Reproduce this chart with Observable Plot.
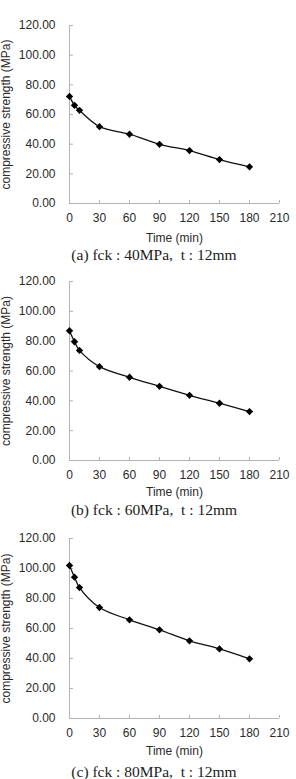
<!DOCTYPE html>
<html><head><meta charset="utf-8">
<script src="https://cdn.jsdelivr.net/npm/d3@7"></script>
<script src="https://cdn.jsdelivr.net/npm/@observablehq/plot@0.6"></script>
<style>
body{margin:0;background:#fff;width:296px;}
.cap{font-family:"Liberation Serif","DejaVu Serif",serif;font-size:15.5px;height:16px;line-height:16px;text-align:center;padding-left:12px;box-sizing:border-box;color:#222;white-space:pre;}
svg{display:block}
</style></head><body><div id="c"></div>
<script>
const times = [0, 5, 10, 30, 60, 90, 120, 150, 180];
const strength40 = [72.2, 66.2, 62.8, 51.8, 46.7, 39.9, 35.7, 29.6, 24.7];
const strength60 = [87.0, 79.6, 73.8, 62.9, 55.8, 49.7, 43.7, 38.4, 32.8];
const strength80 = [102.0, 94.2, 87.3, 74.0, 65.8, 59.1, 51.8, 46.4, 39.8];
const xTicks = [0, 30, 60, 90, 120, 150, 180, 210];
const yTicks = [0, 20, 40, 60, 80, 100, 120];
const captions = ["(a) fck : 40MPa,  t : 12mm", "(b) fck : 60MPa,  t : 12mm", "(c) fck : 80MPa,  t : 12mm"];
const xLabel = "Time (min)";
const yLabel = "compressive strength (MPa)";

const series = [strength40, strength60, strength80];
const layout = [
  {mt: 25, h: 247, mb: 44, lo: 38},
  {mt: 18, h: 239, mb: 42, lo: 35},
  {mt: 20, h: 246, mb: 46, lo: 36}
];
const axisGray = "#b4b4b4";
const textCol = "#2a2a2a";
const root = document.getElementById("c");
series.forEach((vals, i) => {
  const data = times.map((t, j) => ({t, v: vals[j]}));
  const L = layout[i];
  const chart = Plot.plot({
    width: 296, height: L.h,
    marginTop: L.mt, marginBottom: L.mb, marginLeft: 69, marginRight: 17,
    style: {fontFamily: "'Liberation Sans', Arial, sans-serif", fontSize: "12px", color: textCol, background: "#fff"},
    x: {domain: [0, 210], ticks: xTicks},
    y: {domain: [0, 120], ticks: yTicks},
    marks: [
      Plot.ruleX([0], {stroke: axisGray}),
      Plot.ruleY([0], {stroke: axisGray}),
      Plot.axisX(xTicks, {tickSize: -3, tickPadding: 13, stroke: axisGray, fill: textCol, label: xLabel, labelAnchor: "center", labelOffset: L.lo, labelArrow: "none"}),
      Plot.axisY(yTicks, {tickSize: -4, tickPadding: 18, tickFormat: d3.format(".2f"), stroke: axisGray, fill: textCol, label: yLabel, labelAnchor: "center", labelOffset: 68, labelArrow: "none"}),
      Plot.line(data, {x: "t", y: "v", curve: "catmull-rom", stroke: "#111", strokeWidth: 1.3}),
      Plot.dot(data, {x: "t", y: "v", symbol: "diamond2", r: 3.3, fill: "#000", stroke: "none"})
    ]
  });
  root.appendChild(chart);
  const cap = document.createElement("div");
  cap.className = "cap";
  cap.textContent = captions[i];
  root.appendChild(cap);
});
</script></body></html>
